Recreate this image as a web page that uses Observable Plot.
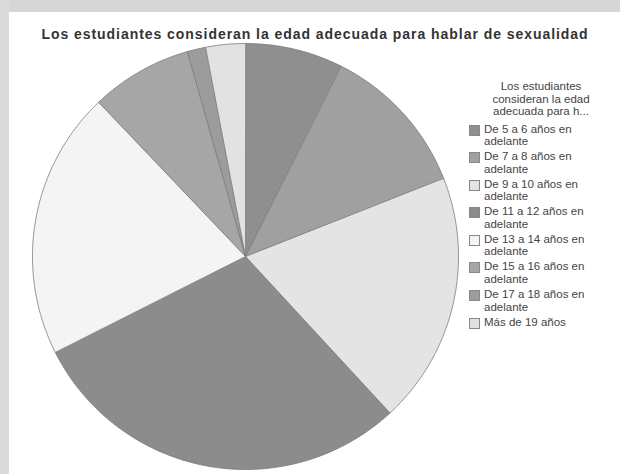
<!DOCTYPE html>
<html><head><meta charset="utf-8">
<script src="https://cdn.jsdelivr.net/npm/d3@7"></script>
<script src="https://cdn.jsdelivr.net/npm/@observablehq/plot@0.6"></script>
<style>
html,body{margin:0;padding:0;background:#fff;}
#wrap{position:relative;width:620px;height:474px;overflow:hidden;background:#fff;font-family:"Liberation Sans",Arial,sans-serif;}
#frameTop{position:absolute;left:0;top:0;width:620px;height:12px;background:#d6d6d6;}
#frameLeft{position:absolute;left:0;top:0;width:9px;height:474px;background:#dadada;}
#title{position:absolute;left:0;top:26px;width:630px;text-align:center;font-weight:bold;font-size:14px;letter-spacing:0.95px;color:#333;}
#legend{position:absolute;left:468px;top:80px;width:152px;font-size:11.5px;color:#444;line-height:12.5px;}
#legend .lt{text-align:center;width:146px;margin-bottom:5px;line-height:12.5px;}
#legend .it{position:relative;height:27.6px;padding-left:16px;}
#legend .sw{position:absolute;left:1px;top:2px;width:11px;height:11px;border:1px solid #888;box-sizing:border-box;}
#chart{position:absolute;left:0;top:0;}
</style></head>
<body><div id="wrap"><div id="frameTop"></div><div id="frameLeft"></div><div id="chart"></div><div id="title"></div><div id="legend"></div></div>
<script>
const titleText = "Los estudiantes consideran la edad adecuada para hablar de sexualidad";
const legendTitle = ["Los estudiantes", "consideran la edad", "adecuada para h..."];
const categories = ["De 5 a 6 años en adelante","De 7 a 8 años en adelante","De 9 a 10 años en adelante","De 11 a 12 años en adelante","De 13 a 14 años en adelante","De 15 a 16 años en adelante","De 17 a 18 años en adelante","Más de 19 años"];
const legendLines = [["De 5 a 6 años en","adelante"],["De 7 a 8 años en","adelante"],["De 9 a 10 años en","adelante"],["De 11 a 12 años en","adelante"],["De 13 a 14 años en","adelante"],["De 15 a 16 años en","adelante"],["De 17 a 18 años en","adelante"],["Más de 19 años"]];
const values = [7.4, 11.6, 19.1, 29.4, 20.3, 7.7, 1.4, 3.0];
const colors = ["#8f8f8f","#a0a0a0","#e4e4e4","#8c8c8c","#f4f4f4","#a6a6a6","#9c9c9c","#e2e2e2"];

document.getElementById("title").textContent = titleText;

const W = 620, H = 474, cx = 245, cy = 256, R = 213;
const pie = d3.pie().sort(null).value(d => d.value).startAngle(0).endAngle(2*Math.PI);
const arcs = pie(categories.map((c,i) => ({category:c, value:values[i]})));
const pts = [];
arcs.forEach(a => {
  const c = a.data.category;
  pts.push({category:c, x:0, y:0});
  const n = Math.max(2, Math.ceil((a.endAngle - a.startAngle) / (Math.PI/360)));
  for (let k=0;k<=n;k++){
    const t = a.startAngle + (a.endAngle - a.startAngle)*k/n;
    pts.push({category:c, x:Math.sin(t), y:Math.cos(t)});
  }
});

const plot = Plot.plot({
  width: W, height: H, margin: 0,
  x: {domain: [-cx/R, (W-cx)/R], axis: null},
  y: {domain: [(cy-H)/R, cy/R], axis: null},
  color: {domain: categories, range: colors},
  style: {background: "transparent"},
  marks: [
    Plot.line(pts, {x:"x", y:"y", z:"category", fill:"category", stroke:"#7a7a7a", strokeWidth:0.8, curve:"linear-closed"})
  ]
});
document.getElementById("chart").appendChild(plot);

const lg = document.getElementById("legend");
const lt = document.createElement("div"); lt.className="lt"; lt.innerHTML = legendTitle.join("<br>"); lg.appendChild(lt);
categories.forEach((c,i) => {
  const it = document.createElement("div"); it.className="it";
  const sw = document.createElement("div"); sw.className="sw"; sw.style.background = colors[i];
  it.appendChild(sw);
  const tx = document.createElement("div"); tx.innerHTML = legendLines[i].join("<br>");
  it.appendChild(tx);
  lg.appendChild(it);
});
</script></body></html>
